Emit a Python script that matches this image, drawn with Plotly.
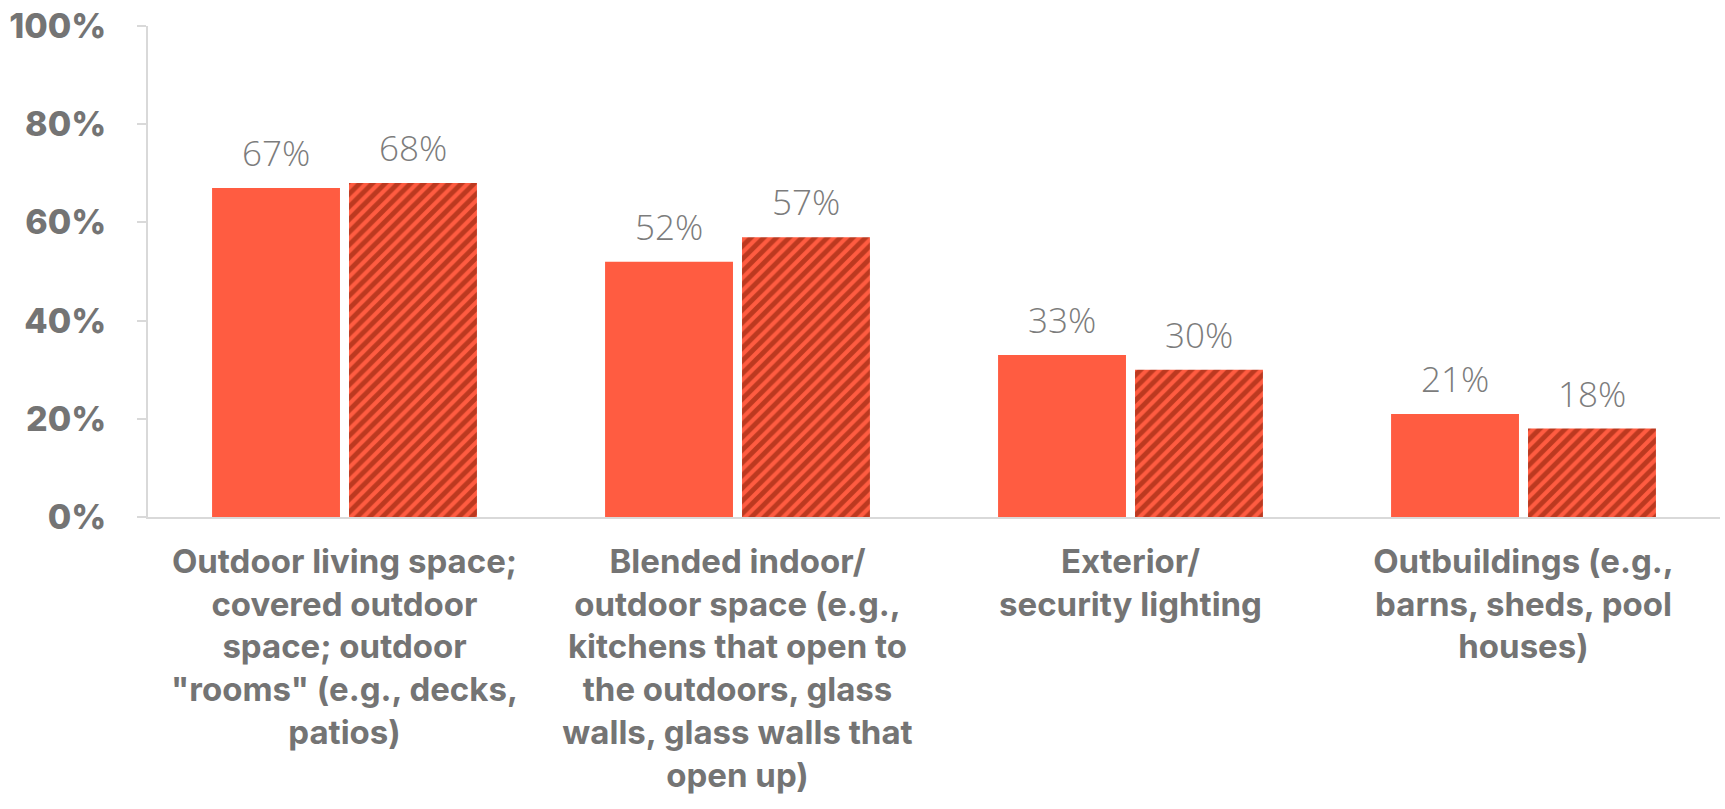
import plotly.graph_objects as go

categories = [
    "Outdoor living space;<br>covered outdoor<br>space; outdoor<br>\"rooms\" (e.g., decks,<br>patios)",
    "Blended indoor/<br>outdoor space (e.g.,<br>kitchens that open to<br>the outdoors, glass<br>walls, glass walls that<br>open up)",
    "Exterior/<br>security lighting",
    "Outbuildings (e.g.,<br>barns, sheds, pool<br>houses)",
]
series_1 = [67, 52, 33, 21]
series_2 = [68, 57, 30, 18]
y_ticks = [0, 20, 40, 60, 80, 100]
y_tick_labels = ["0%", "20%", "40%", "60%", "80%", "100%"]

ORANGE = "#FF5C41"
DARK = "#7A1500"
GREY = "#747474"
LABEL_GREY = "#7C7C7C"
AXIS = "#D9D9D9"

fig = go.Figure()
fig.add_trace(go.Bar(
    x=categories, y=series_1, name="series_1",
    marker=dict(color=ORANGE, line=dict(width=0)),
))
fig.add_trace(go.Bar(
    x=categories, y=series_2, name="series_2",
    marker=dict(
        color=ORANGE, line=dict(width=0),
        pattern=dict(shape="/", fgcolor=DARK, bgcolor=ORANGE,
                     fillmode="overlay", size=9, solidity=0.55),
    ),
))

# value labels above each bar, offset left/right to sit over its bar
half_slot = 68.5
for vals, shift in ((series_1, -half_slot), (series_2, half_slot)):
    for cat, v in zip(categories, vals):
        fig.add_annotation(
            x=cat, y=v, text=f"{v}%", showarrow=False,
            xanchor="center", yanchor="bottom", xshift=shift, yshift=10,
            font=dict(family="Open Sans", size=35, color=LABEL_GREY, weight=300),
        )

fig.update_layout(
    width=1725, height=809,
    margin=dict(l=148, r=5, t=21, b=292),
    paper_bgcolor="white", plot_bgcolor="white",
    showlegend=False,
    barmode="group", bargap=0.303, bargroupgap=0.066,
)
fig.update_xaxes(
    showline=True, linecolor=AXIS, linewidth=2,
    ticks="", showgrid=False,
    tickfont=dict(family="Inter", size=33, color=GREY, weight=700),
    ticklabelstandoff=14,
)
fig.update_yaxes(
    range=[0, 100], tickvals=y_ticks, ticktext=y_tick_labels,
    showline=True, linecolor=AXIS, linewidth=2,
    ticks="outside", ticklen=9, tickcolor=AXIS, tickwidth=2,
    showgrid=False, zeroline=False,
    tickfont=dict(family="Inter", size=34, color=GREY, weight=800),
    ticklabelstandoff=24, ticklabeloverflow="allow",
)

fig.write_html("out.html")
